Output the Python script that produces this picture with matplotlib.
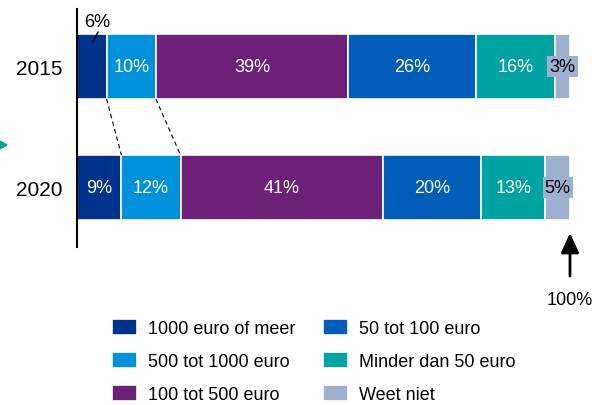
import matplotlib
matplotlib.use("Agg")
import matplotlib.pyplot as plt
import numpy as np
from matplotlib.patches import Polygon

plt.rcParams['font.family'] = ['Liberation Sans', 'DejaVu Sans']

years = ["2015", "2020"]
categories = ["1000 euro of meer", "500 tot 1000 euro", "100 tot 500 euro",
              "50 tot 100 euro", "Minder dan 50 euro", "Weet niet"]
values_2015 = [6, 10, 39, 26, 16, 3]
values_2020 = [9, 12, 41, 20, 13, 5]
colors = ["#00338D", "#0091DA", "#6D2077", "#005EB8", "#00A3A1", "#9EB0D0"]

W, H = 597, 406
fig = plt.figure(figsize=(W / 100, H / 100), dpi=100)
ax = fig.add_axes([77 / W, (H - 248) / H, 493 / W, 238 / H])

data = np.array([values_2015, values_2020])
ypos = np.arange(len(years))
h = 0.537
left = np.zeros(len(years))
bars = []
for i, cat in enumerate(categories):
    b = ax.barh(ypos, data[:, i], left=left, height=h, color=colors[i],
                edgecolor="white", linewidth=1.2, label=cat)
    bars.append(b)
    for j in range(len(years)):
        v = data[j, i]
        cx = left[j] + v / 2
        if i == 0 and j == 0:
            # small segment: label above with leader line
            ax.text(4.1, -0.375, f"{v}%", ha="center", va="center",
                    fontsize=13, color="black")
            ax.plot([3.2, 4.3], [-0.205, -0.285], color="black", lw=1)
        elif i == len(categories) - 1:
            ax.text(cx, ypos[j], f"{v}%", ha="center", va="center",
                    fontsize=13, color="black",
                    bbox=dict(boxstyle="square,pad=0.12", fc=colors[i], ec="none"))
        else:
            ax.text(cx, ypos[j], f"{v}%", ha="center", va="center",
                    fontsize=13, color="white")
    left = left + data[:, i]

# dashed connectors
cum15 = np.cumsum(values_2015)
cum20 = np.cumsum(values_2020)
for k in range(2):
    ax.plot([cum15[k], cum20[k]], [h / 2, 1 - h / 2], color="black",
            lw=0.8, dashes=(4, 3))

ax.set_xlim(0, 100)
ax.set_ylim(1.492, -0.475)
ax.set_yticks(ypos)
ax.set_yticklabels(years, fontsize=15)
ax.tick_params(axis="y", length=0, pad=10.5)
ax.set_xticks([])
for s in ["top", "right", "bottom"]:
    ax.spines[s].set_visible(False)
ax.spines["left"].set_linewidth(1.5)
ax.patch.set_alpha(0)

# 100% arrow
ax.annotate("", xy=(100, H - 234), xytext=(100, H - 277),
            xycoords=("data", "figure pixels"), textcoords=("data", "figure pixels"),
            arrowprops=dict(arrowstyle="-|>,head_width=0.55,head_length=1.2",
                            color="black", lw=2, shrinkA=0, shrinkB=0))
ax.annotate("100%", xy=(100, H - 301), xycoords=("data", "figure pixels"),
            ha="center", va="center", fontsize=13, annotation_clip=False)

# teal marker on the left edge
tri = Polygon([[-1 / W, (H - 141.5) / H], [7 / W, (H - 146) / H], [-1 / W, (H - 150.5) / H]],
              closed=True, transform=fig.transFigure, color="#00A3A1")
fig.add_artist(tri)

fig.legend(handles=bars, labels=categories, ncols=2, frameon=False,
           loc="upper left", bbox_to_anchor=(111.7 / W, (H - 320) / H),
           borderpad=0, borderaxespad=0, fontsize=13,
           handlelength=1.38, handleheight=1.0, handletextpad=0.64,
           columnspacing=1.52, labelspacing=0.82)

fig.savefig("out.png", dpi=100)
